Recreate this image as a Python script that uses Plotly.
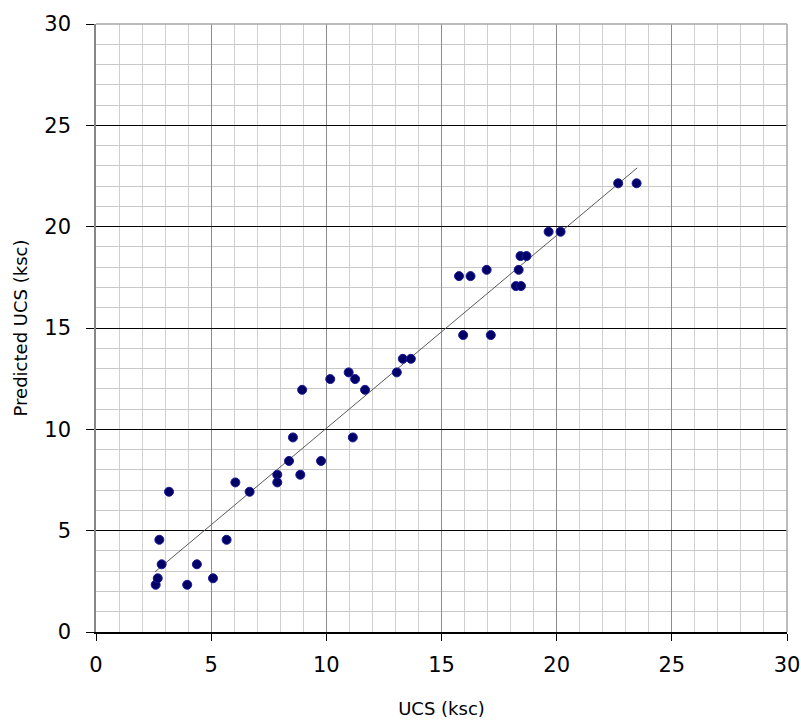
import numpy as np
import plotly.graph_objects as go

ucs = [2.59, 2.68, 2.85, 2.75, 3.17, 3.96, 4.38, 5.08, 5.67, 6.05,
       6.67, 7.87, 7.87, 8.38, 8.55, 8.87, 9.77, 11.15, 8.95, 10.17,
       10.97, 11.25, 11.68, 13.06, 13.32, 13.67, 15.76, 16.26, 16.96, 15.94,
       17.14, 18.35, 18.23, 18.45, 18.43, 18.69, 19.65, 20.17, 22.67, 23.47]
predicted = [2.33, 2.65, 3.34, 4.55, 6.92, 2.33, 3.34, 2.65, 4.55, 7.38,
             6.92, 7.76, 7.38, 8.44, 9.60, 7.76, 8.44, 9.60, 11.95, 12.48,
             12.81, 12.48, 11.95, 12.81, 13.48, 13.48, 17.56, 17.56, 17.87, 14.65,
             14.65, 17.87, 17.07, 17.07, 18.55, 18.55, 19.75, 19.75, 22.14, 22.14]
trend_x = [2.56, 23.50]
trend_slope = 0.952
trend_intercept = 0.53
tick_vals = [0, 5, 10, 15, 20, 25, 30]

trend_y = [trend_slope * v + trend_intercept for v in trend_x]

fig = go.Figure()
fig.add_trace(go.Scatter(x=trend_x, y=trend_y, mode="lines",
                         line=dict(color="#5a5a5a", width=1), hoverinfo="skip",
                         showlegend=False))
fig.add_trace(go.Scatter(x=ucs, y=predicted, mode="markers",
                         marker=dict(size=9, color="#000066",
                                     line=dict(color="#1a1a99", width=1)),
                         showlegend=False))

font_family = "'DejaVu Sans', sans-serif"
fig.update_layout(
    width=801, height=722,
    margin=dict(l=96, r=14, t=24, b=90, autoexpand=False),
    paper_bgcolor="white", plot_bgcolor="white",
    font=dict(family=font_family, color="#000000"),
    xaxis=dict(range=[0, 30], tickvals=tick_vals, showgrid=True,
               gridcolor="#8c8c8c", gridwidth=1,
               minor=dict(dtick=1, showgrid=True, gridcolor="#d0d0d0", gridwidth=1),
               showline=True, linecolor="#000000", linewidth=1.5,
               ticks="outside", ticklen=7, tickcolor="#000000",
               ticklabelstandoff=6,
               tickfont=dict(size=21), zeroline=False, automargin=False,
               title=dict(text="UCS (ksc)", font=dict(size=18), standoff=26)),
    yaxis=dict(range=[0, 30], tickvals=tick_vals, showgrid=True,
               gridcolor="#000000", gridwidth=1,
               minor=dict(dtick=1, showgrid=True, gridcolor="#c8c8c8", gridwidth=1),
               showline=True, linecolor="#868686", linewidth=1.5,
               ticks="outside", ticklen=8, tickcolor="#000000",
               ticklabelstandoff=11,
               tickfont=dict(size=21), zeroline=False, automargin=False,
               title=dict(text="Predicted UCS (ksc)", font=dict(size=18), standoff=12)),
    shapes=[
        dict(type="line", xref="paper", yref="paper", x0=0, x1=1, y0=1, y1=1,
             line=dict(color="#a6a6a6", width=1.5), layer="above"),
        dict(type="line", xref="paper", yref="paper", x0=1, x1=1, y0=0, y1=1,
             line=dict(color="#a6a6a6", width=1.5), layer="above"),
    ],
)

fig.write_html("out.html", config={"displayModeBar": False},
               post_script="document.body.style.margin='0';document.body.style.overflow='hidden';")
